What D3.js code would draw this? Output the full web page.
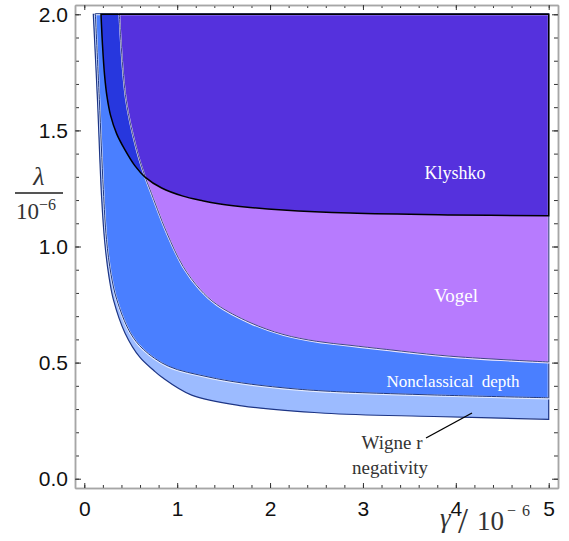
<!DOCTYPE html>
<html>
<head>
<meta charset="utf-8">
<script src="https://cdn.jsdelivr.net/npm/d3@7"></script>
<style>
	body { margin: 0; background: #fff; }
	svg { display: block; }
	.tick text { font-family: "Liberation Sans", Arial, sans-serif; font-size: 21px; fill: #111; }
	.lbl { font-family: "Liberation Serif", "Times New Roman", serif; }
</style>
</head>
<body>
<svg id="chart" width="569" height="541"></svg>
<script>
	// tick labels
	var xTicks = [0, 1, 2, 3, 4, 5],
		yTicks = [0, 0.5, 1, 1.5, 2];

	// boundary curves, [gamma, lambda]
	var wigner = [[0.097, 2.000], [0.142, 1.631], [0.185, 1.222], [0.221, 1.015], [0.266, 0.869],
		[0.314, 0.770], [0.438, 0.628], [0.600, 0.522], [0.743, 0.468], [0.833, 0.438],
		[1.156, 0.360], [1.695, 0.314], [2.592, 0.282], [3.766, 0.268], [5.000, 0.256]];

	var nonclassical = [[0.119, 2.000], [0.162, 1.631], [0.205, 1.243], [0.239, 1.028], [0.288, 0.877],
		[0.349, 0.770], [0.492, 0.628], [0.635, 0.555], [0.905, 0.482], [1.332, 0.436],
		[1.695, 0.410], [2.139, 0.389], [2.592, 0.375], [3.766, 0.358], [5.000, 0.346]];

	var vogel = [[0.377, 2.000], [0.449, 1.631], [0.564, 1.415], [0.654, 1.299], [0.707, 1.243],
		[0.887, 1.058], [1.063, 0.912], [1.246, 0.813], [1.425, 0.748], [1.784, 0.670],
		[2.139, 0.619], [2.502, 0.589], [2.861, 0.572], [3.256, 0.554], [3.970, 0.524],
		[5.000, 0.500]];

	var klyshko = [[0.180, 2.000], [0.196, 1.868], [0.218, 1.739], [0.245, 1.644], [0.282, 1.566],
		[0.349, 1.485], [0.438, 1.416], [0.546, 1.347], [0.654, 1.299], [0.833, 1.252],
		[1.063, 1.217], [1.264, 1.198], [1.429, 1.185], [1.784, 1.168], [2.139, 1.157],
		[2.861, 1.144], [3.938, 1.136], [5.000, 1.132]];

	var svg = d3.select("#chart");

	var x = d3.scaleLinear().domain([-0.1, 5.1]).range([75, 558]),
		y = d3.scaleLinear().domain([-0.04, 2.04]).range([488, 5]);

	var line = d3.line()
		.x(function (d) { return x(d[0]); })
		.y(function (d) { return y(d[1]); })
		.curve(d3.curveCatmullRom.alpha(0.5));

	function region(pts) {
		return line(pts) + "L" + x(5) + "," + y(2) + "Z";
	}

	svg.append("clipPath").attr("id", "kclip")
		.append("path").attr("d", region(klyshko));

	var plot = svg.append("g");

	plot.append("path").attr("d", region(wigner))
		.attr("fill", "#9cbbff").attr("stroke", "#1d3585").attr("stroke-width", 1.2);
	plot.append("path").attr("d", region(nonclassical))
		.attr("fill", "#4a7fff").attr("stroke", "#e8eeff").attr("stroke-width", 2);
	plot.append("path").attr("d", region(nonclassical))
		.attr("fill", "none").attr("stroke", "#22397f").attr("stroke-width", 1)
		.attr("transform", "translate(0,-0.6)");
	plot.append("path").attr("d", region(klyshko)).attr("fill", "#2737de");
	plot.append("path").attr("d", region(vogel)).attr("fill", "#b77bfe");
	plot.append("path").attr("d", region(vogel)).attr("fill", "#5531dd")
		.attr("clip-path", "url(#kclip)");
	plot.append("path").attr("d", region(vogel))
		.attr("fill", "none").attr("stroke", "#eee8ff").attr("stroke-width", 1.8);
	plot.append("path").attr("d", region(vogel))
		.attr("fill", "none").attr("stroke", "#2e3575").attr("stroke-width", 0.9)
		.attr("transform", "translate(0,-0.6)");
	plot.append("path").attr("d", region(klyshko))
		.attr("fill", "none").attr("stroke", "#000").attr("stroke-width", 1.5);

	// region labels
	var labels = plot.append("g").attr("class", "lbl").attr("fill", "#fff")
		.attr("text-anchor", "middle").attr("font-size", 18);
	labels.append("text").attr("x", 455).attr("y", 179).text("Klyshko");
	labels.append("text").attr("x", 456).attr("y", 302).attr("font-size", 19).text("Vogel");
	labels.append("text").attr("x", 453).attr("y", 387).attr("font-size", 17)
		.attr("word-spacing", 4).text("Nonclassical depth");

	// wigner annotation
	svg.append("line").attr("x1", 426).attr("y1", 438).attr("x2", 472).attr("y2", 413)
		.attr("stroke", "#000").attr("stroke-width", 1.4);
	var wl = svg.append("g").attr("class", "lbl").attr("fill", "#333")
		.attr("text-anchor", "middle").attr("font-size", 19);
	wl.append("text").attr("x", 392).attr("y", 449).text("Wigne r");
	wl.append("text").attr("x", 390).attr("y", 474).text("negativity");

	// axes, ticks point inward on all four sides
	function style(g) {
		g.select(".domain").attr("stroke", "#a6a6a6").attr("stroke-width", 1.5);
		g.selectAll(".tick line").attr("stroke", "#333");
	}
	svg.append("g").attr("transform", "translate(0,488)")
		.call(d3.axisBottom(x).ticks(26).tickSize(-3).tickSizeOuter(0).tickFormat(""))
		.call(style);
	svg.append("g").attr("transform", "translate(0,488)")
		.call(d3.axisBottom(x).tickValues(xTicks).tickSize(-5).tickSizeOuter(0).tickPadding(13)
			.tickFormat(d3.format("d")))
		.call(style);
	svg.append("g").attr("transform", "translate(0,5)")
		.call(d3.axisTop(x).ticks(26).tickSize(-3).tickSizeOuter(0).tickFormat(""))
		.call(style);
	svg.append("g").attr("transform", "translate(0,5)")
		.call(d3.axisTop(x).tickValues(xTicks).tickSize(-5).tickSizeOuter(0).tickFormat(""))
		.call(style);
	svg.append("g").attr("transform", "translate(75,0)")
		.call(d3.axisLeft(y).ticks(20).tickSize(-4).tickSizeOuter(0).tickFormat(""))
		.call(style);
	svg.append("g").attr("transform", "translate(75,0)")
		.call(d3.axisLeft(y).tickValues(yTicks).tickSize(-6).tickSizeOuter(0).tickPadding(7)
			.tickFormat(d3.format(".1f")))
		.call(style);
	svg.append("g").attr("transform", "translate(558,0)")
		.call(d3.axisRight(y).ticks(20).tickSize(-4).tickSizeOuter(0).tickFormat(""))
		.call(style);
	svg.append("g").attr("transform", "translate(558,0)")
		.call(d3.axisRight(y).tickValues(yTicks).tickSize(-6).tickSizeOuter(0).tickFormat(""))
		.call(style);

	// y axis title: lambda over 10^-6
	var yt = svg.append("g").attr("class", "lbl").attr("fill", "#333");
	yt.append("text").attr("x", 39).attr("y", 185).attr("text-anchor", "middle")
		.attr("font-size", 26).attr("font-style", "italic").text("λ");
	yt.append("line").attr("x1", 15).attr("x2", 63).attr("y1", 193).attr("y2", 193)
		.attr("stroke", "#555").attr("stroke-width", 2);
	yt.append("text").attr("x", 16).attr("y", 219).attr("font-size", 23)
		.text("10").append("tspan").attr("dy", -9).attr("font-size", 16).text("−6");

	// x axis title: gamma / 10^-6
	var xt = svg.append("g").attr("class", "lbl").attr("fill", "#333");
	xt.append("text").attr("x", 440).attr("y", 527).attr("font-size", 27)
		.attr("font-style", "italic").text("γ");
	xt.append("text").attr("x", 458).attr("y", 533).attr("font-size", 36).text("/");
	xt.append("text").attr("x", 477).attr("y", 530).attr("font-size", 27).text("10");
	xt.append("text").attr("x", 507).attr("y", 516).attr("font-size", 16)
		.attr("word-spacing", 2).text("− 6");
</script>
</body>
</html>
